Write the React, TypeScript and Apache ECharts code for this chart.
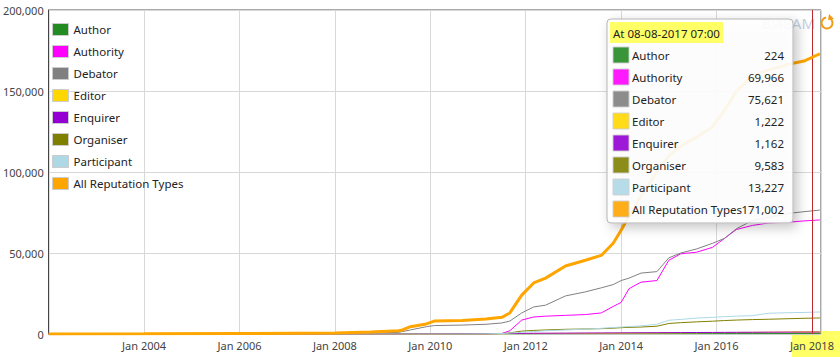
import React, { useEffect, useRef } from "react";
import * as echarts from "echarts";

const seriesNames = ["Author", "Authority", "Debator", "Editor", "Enquirer", "Organiser", "Participant", "All Reputation Types"];
const seriesColors = ["#228B22", "#FF00FF", "#808080", "#FFD700", "#9400D3", "#808000", "#ADD8E6", "#FFA500"];

const dates = [
  "2002-01", "2004-01", "2006-01", "2008-01", "2008-10", "2009-05", "2009-06", "2009-08", "2009-12", "2010-02",
  "2010-09", "2011-03", "2011-07", "2011-09", "2011-12", "2012-03", "2012-06", "2012-11", "2013-04", "2013-08",
  "2013-11", "2014-01", "2014-03", "2014-06", "2014-10", "2015-01", "2015-04", "2015-08", "2015-12", "2016-03",
  "2016-06", "2016-10", "2017-02", "2017-08", "2017-11", "2018-03",
];

const author = [0, 0, 0, 0, 5, 10, 10, 15, 20, 25, 30, 40, 50, 55, 60, 70, 80, 90, 100, 110, 120, 125, 130, 140, 150, 160, 170, 180, 190, 195, 200, 205, 210, 224, 228, 232];
const authority = [0, 0, 0, 0, 0, 0, 0, 0, 0, 0, 0, 0, 300, 2000, 8600, 10500, 11000, 11500, 12000, 13000, 17000, 19500, 28000, 32000, 33000, 45500, 49500, 50500, 53500, 59000, 64500, 67000, 68500, 69200, 69800, 70400];
const debator = [0, 50, 150, 300, 600, 1000, 1500, 2500, 4500, 5200, 5500, 6000, 6800, 8000, 13000, 16700, 17800, 23500, 26000, 28500, 30500, 33000, 34500, 37600, 38500, 47000, 50000, 52500, 56000, 59000, 65000, 70000, 72000, 74700, 75500, 76500];
const editor = [0, 0, 0, 0, 0, 0, 0, 0, 0, 0, 50, 100, 130, 160, 200, 250, 300, 350, 400, 430, 470, 500, 540, 580, 640, 700, 740, 790, 850, 900, 950, 1000, 1100, 1222, 1260, 1300];
const enquirer = [0, 0, 0, 0, 50, 80, 100, 150, 200, 220, 250, 280, 320, 350, 400, 450, 480, 530, 600, 640, 680, 700, 730, 770, 810, 850, 880, 920, 960, 1000, 1040, 1070, 1100, 1162, 1180, 1200];
const organiser = [0, 0, 0, 0, 0, 0, 0, 0, 0, 0, 0, 0, 300, 700, 1800, 2200, 2500, 2900, 3100, 3300, 3600, 3900, 4100, 4300, 4800, 6500, 7000, 7500, 7900, 8300, 8600, 8900, 9100, 9500, 9700, 9900];
const participant = [0, 0, 0, 0, 0, 0, 0, 0, 0, 0, 0, 100, 300, 600, 1000, 1500, 2000, 2500, 3000, 3500, 4000, 4300, 4600, 5000, 6000, 8500, 9000, 9800, 10300, 10700, 11000, 11300, 12800, 13200, 13300, 13600];
const allTypes = [0, 100, 300, 600, 1200, 2000, 2500, 4500, 6200, 8000, 8300, 9200, 10300, 13000, 24000, 31500, 34500, 42000, 45500, 48500, 56000, 64000, 73000, 85000, 100000, 110000, 116000, 121500, 128000, 138000, 150000, 159000, 163000, 167000, 168500, 173000];

const yTicks = [0, 50000, 100000, 150000, 200000];
const xMinYear = 2002;
const xMaxYear = 2018.19;
const markerYear = 2018;

const tooltipTitle = "At 08-08-2017 07:00";
const tooltipValues = [224, 69966, 75621, 1222, 1162, 9583, 13227, 171002];
const clockText = "8:48AM";

const FONT = "'Noto Sans', sans-serif";
const FS = 11.5;

const toYear = (s: string) => {
  const [y, m] = s.split("-").map(Number);
  return y + (m - 1) / 12;
};

export default function App() {
  const ref = useRef<HTMLDivElement>(null);
  useEffect(() => {
    if (!ref.current) return;
    const chart = echarts.init(ref.current, undefined, { renderer: "svg" });
    const allValues = [author, authority, debator, editor, enquirer, organiser, participant, allTypes];
    const xs = dates.map(toYear);

    const series: any[] = allValues.map((vals, i) => ({
      name: seriesNames[i],
      type: "line",
      data: vals.map((v, j) => [xs[j], v]),
      showSymbol: false,
      symbol: "none",
      color: seriesColors[i],
      lineStyle: { width: i === 7 ? 3 : 1, color: seriesColors[i] },
      z: i === 7 ? 5 : 3,
      silent: true,
    }));
    series[7].markLine = {
      silent: true,
      symbol: "none",
      label: { show: false },
      lineStyle: { color: "#c0282d", width: 1, type: "solid" },
      data: [{ xAxis: markerYear }],
    };

    const tx = 607, ty = 19, tw = 186, th = 204;
    const TZ = 100;
    const tooltipEls: any[] = [
      {
        type: "rect",
        z: TZ,
        shape: { x: tx, y: ty, width: tw, height: th, r: 4 },
        style: {
          fill: "rgba(255,255,255,0.9)",
          stroke: "#b5b5b5",
          lineWidth: 1,
          shadowBlur: 12,
          shadowOffsetX: 4,
          shadowOffsetY: 4,
          shadowColor: "rgba(0,0,0,0.25)",
        },
      },
      {
        type: "rect",
        z: TZ + 1,
        shape: { x: tx + 3, y: ty + 3, width: 113, height: 21 },
        style: { fill: "#ffff66" },
      },
      {
        type: "text",
        z: TZ + 2,
        x: tx + 6,
        y: ty + 14,
        style: { text: tooltipTitle, fill: "#222", font: `${FS}px ${FONT}`, verticalAlign: "middle" },
      },
    ];
    seriesNames.forEach((name, i) => {
      const cy = ty + 36 + i * 22;
      tooltipEls.push(
        {
          type: "rect",
          z: TZ + 1,
          shape: { x: tx + 6, y: cy - 8, width: 16, height: 16 },
          style: { fill: seriesColors[i], opacity: 0.9, stroke: "#cfcfcf", lineWidth: 1 },
        },
        {
          type: "text",
          z: TZ + 2,
          x: tx + 25,
          y: cy,
          style: { text: name, fill: "#222", font: `${FS}px ${FONT}`, verticalAlign: "middle" },
        },
        {
          type: "text",
          z: TZ + 2,
          x: tx + 177,
          y: cy,
          style: {
            text: tooltipValues[i].toLocaleString("en-US"),
            fill: "#222",
            font: `${FS}px ${FONT}`,
            align: "right",
            verticalAlign: "middle",
          },
        }
      );
    });

    chart.setOption({
      animation: false,
      textStyle: { fontFamily: FONT },
      grid: {
        left: 43,
        top: 10,
        right: 19,
        bottom: 23,
        show: true,
        borderColor: "#555",
        borderWidth: 1,
      },
      legend: {
        orient: "vertical",
        left: 52,
        top: 23,
        padding: 0,
        itemWidth: 16,
        itemHeight: 12,
        itemGap: 9,
        icon: "rect",
        data: seriesNames,
        itemStyle: { borderColor: "#cccccc", borderWidth: 1 },
        textStyle: { fontSize: FS, color: "#222", fontFamily: FONT },
        selectedMode: false,
      },
      xAxis: {
        type: "value",
        min: xMinYear,
        max: xMaxYear,
        interval: 2,
        axisLine: { show: false },
        axisTick: { show: false },
        splitLine: { show: true, lineStyle: { color: "#d8d8d8" } },
        axisLabel: {
          showMinLabel: false,
          showMaxLabel: false,
          margin: 6,
          fontSize: 11,
          color: "#444",
          formatter: (v: number) => "Jan " + Math.round(v),
        },
      },
      yAxis: {
        type: "value",
        min: yTicks[0],
        max: yTicks[yTicks.length - 1],
        interval: 50000,
        axisLine: { show: true, lineStyle: { color: "#444" } },
        axisTick: { show: false },
        splitLine: { show: true, lineStyle: { color: "#d8d8d8" } },
        axisLabel: {
          margin: 5,
          fontSize: 11,
          color: "#444",
          formatter: (v: number) => v.toLocaleString("en-US"),
        },
      },
      graphic: [
        {
          type: "rect",
          z: -10,
          shape: { x: 792, y: 331, width: 48, height: 26 },
          style: { fill: "#ffff66" },
        },
        {
          type: "text",
          z: 1,
          x: 815,
          y: 23,
          style: { text: clockText, fill: "#c4cfdf", font: `15px ${FONT}`, align: "right", verticalAlign: "middle" },
        },
        {
          type: "arc",
          z: 1,
          shape: { cx: 827, cy: 23, r: 5.5, startAngle: -Math.PI * 0.3, endAngle: Math.PI * 1.45 },
          style: { stroke: "#f39c12", lineWidth: 2, fill: "none" },
        },
        {
          type: "polygon",
          z: 1,
          shape: { points: [[829, 14], [834, 19], [828, 20]] },
          style: { fill: "#f39c12" },
        },
        ...tooltipEls,
      ],
      series,
    });
    return () => chart.dispose();
  }, []);
  return <div ref={ref} style={{ position: "absolute", left: 0, top: 0, width: 840, height: 357 }} />;
}
